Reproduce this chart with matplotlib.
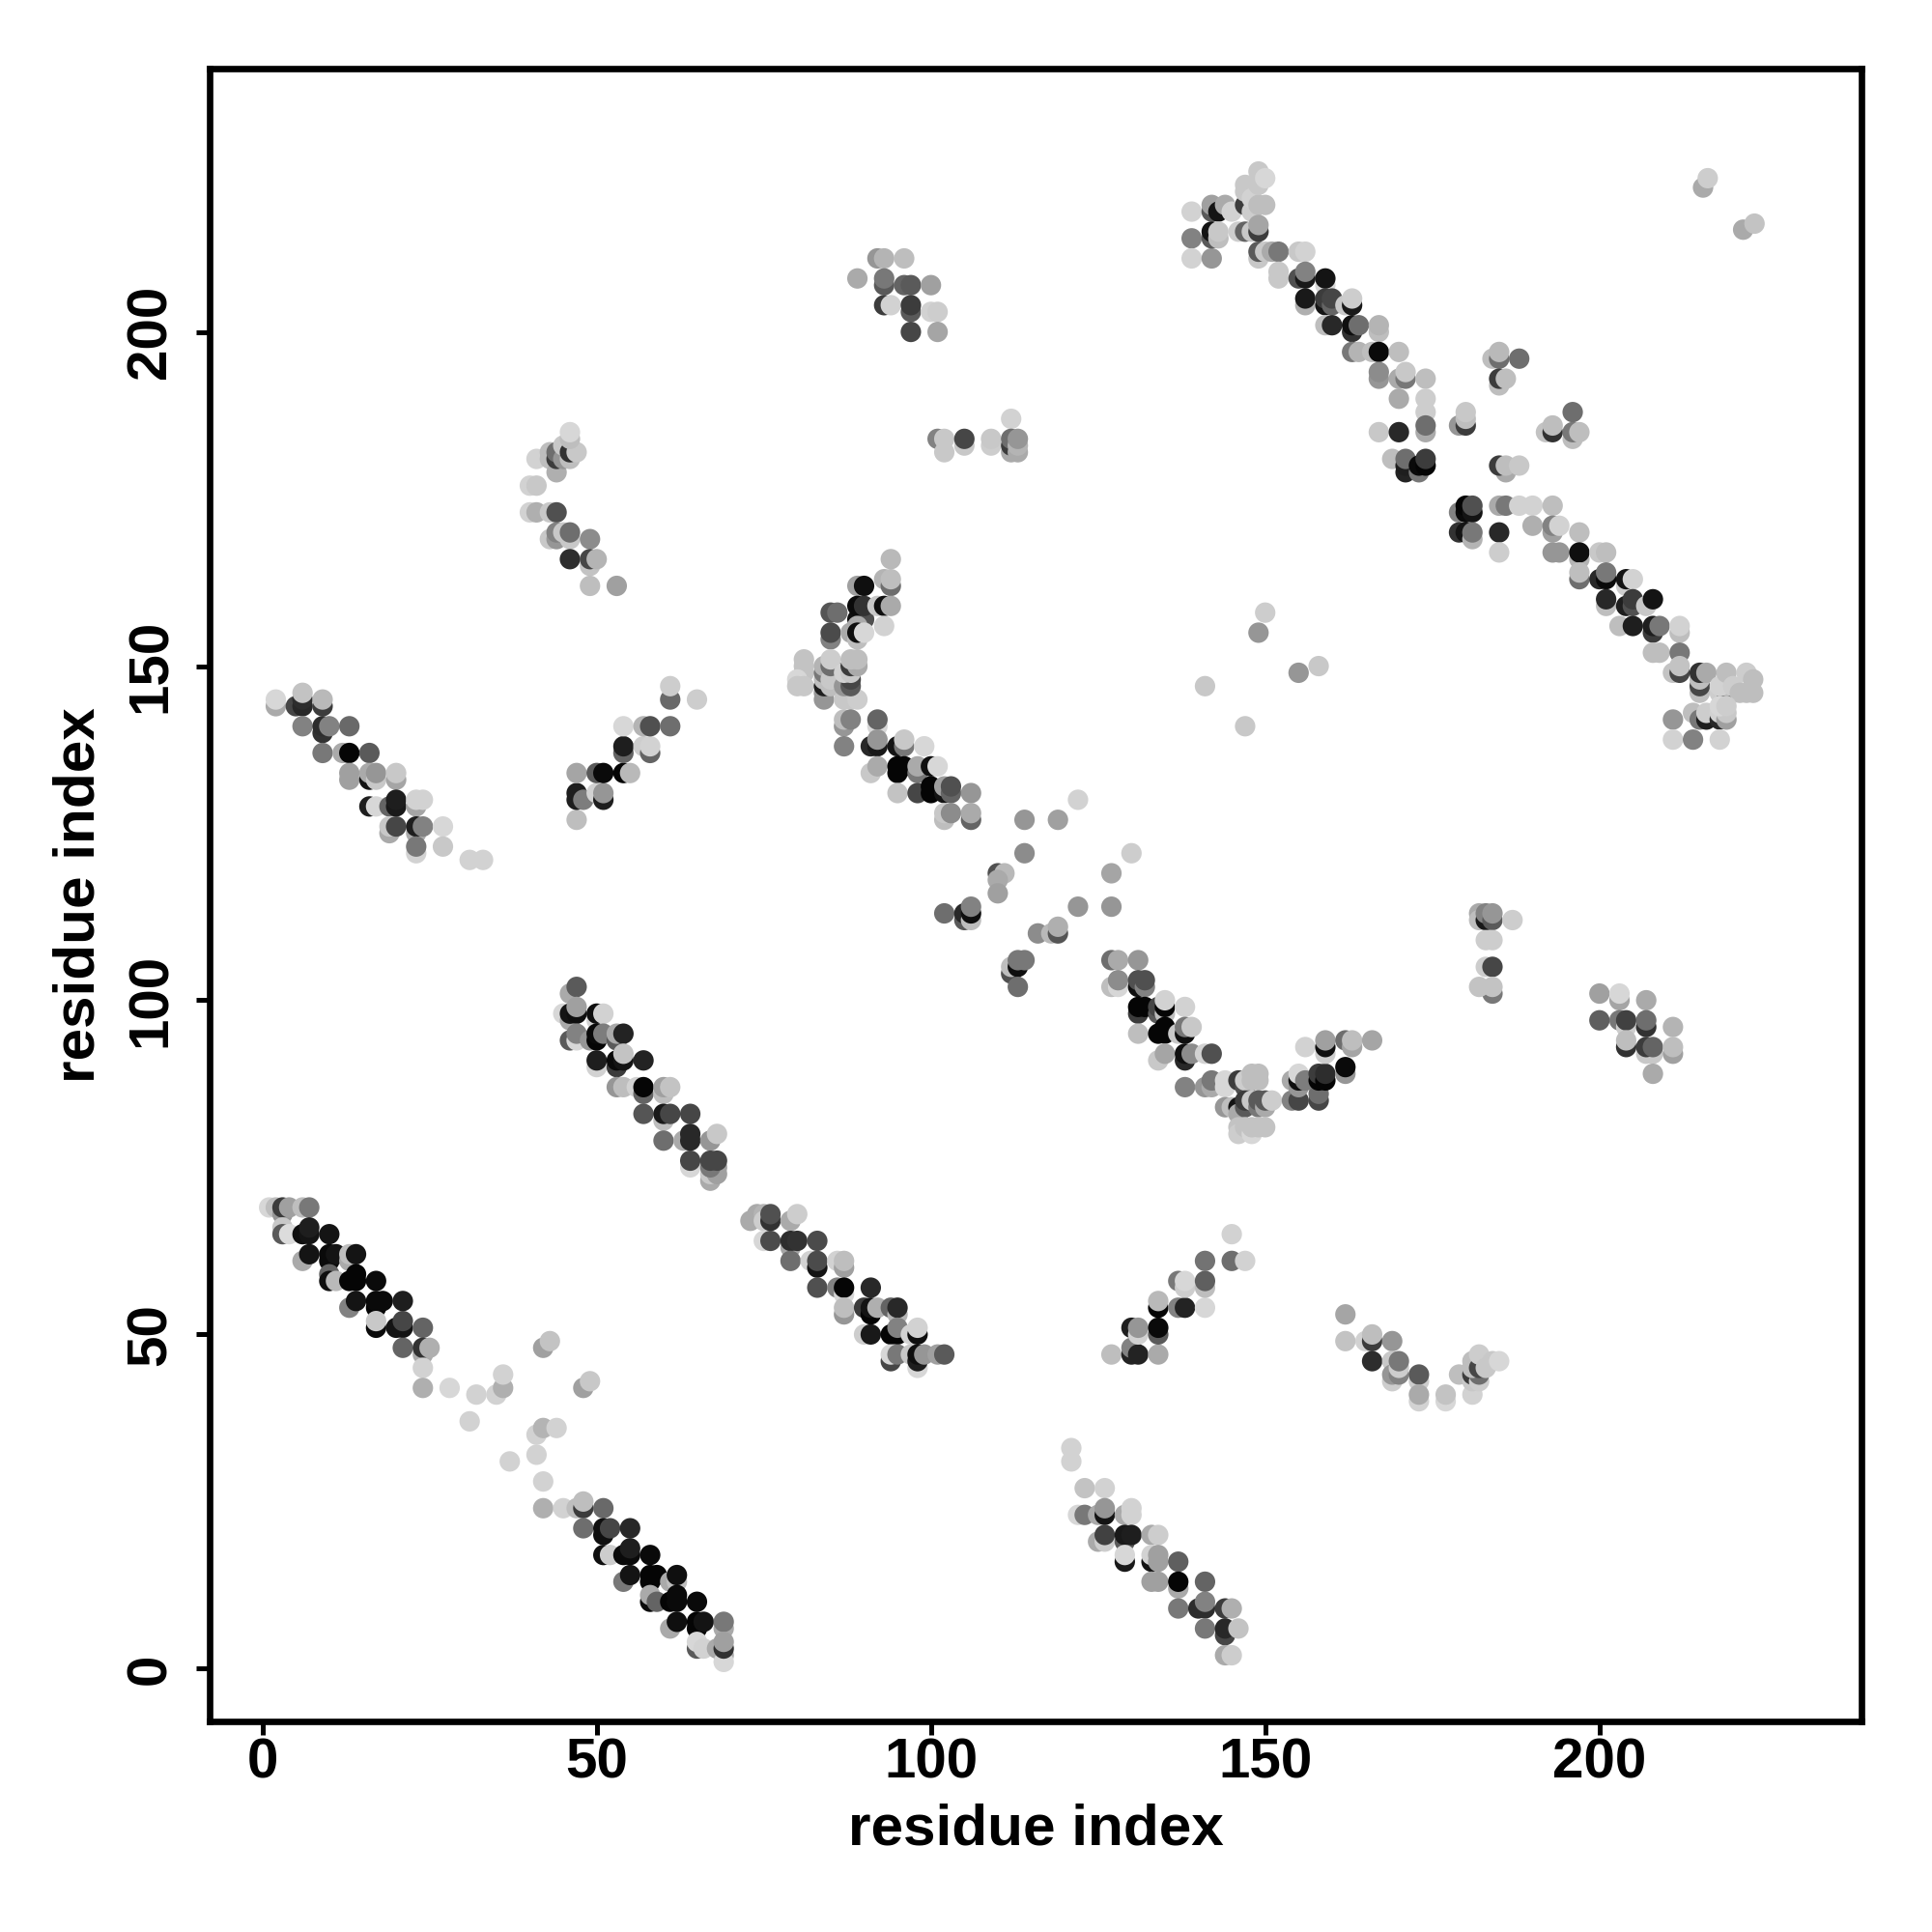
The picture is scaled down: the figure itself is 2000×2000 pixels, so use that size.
import matplotlib
matplotlib.use('Agg')
import matplotlib.pyplot as plt

plt.rcParams['font.family'] = ['Liberation Sans', 'DejaVu Sans']
plt.rcParams['font.weight'] = 'bold'

# (residue i, residue j, grey level 0-255), later points sit on top
strand_a = [(1,69,215),(2,69,190),(3,68,150),(3,69,60),(4,69,160),(6,69,190),(7,69,120),
(3,66,200),(3,65,90),(4,65,220),(6,65,15),(7,65,20),(7,66,30),(10,65,20),
(6,61,170),(7,62,20),(10,61,10),(10,62,10),(11,62,20),(13,61,170),(13,62,190),(14,62,20),
(10,59,100),(10,58,15),(11,58,185),(13,58,5),(14,58,5),(14,59,5),(17,58,10),
(13,54,130),(14,55,20),(17,54,5),(17,55,10),(18,55,10),(21,55,30),
(17,51,10),(17,52,200),(20,51,20),(21,51,20),(21,52,70),(24,51,100),
(21,48,100),(24,47,170),(24,48,50),(25,48,175),(24,45,210),(24,42,175),(28,42,215)]

linker_a = [(32,41,210),(35,41,210),(36,42,175),(36,44,210),(42,48,160),(43,49,195),(48,42,160),(49,43,200),
(31,37,210),(37,31,210),(41,32,210),(41,35,210),(42,36,180),(44,36,210),(42,28,210)]

strand_b = [(42,24,175),(45,24,210),(47,24,190),(48,24,60),(48,25,190),(51,24,105),
(48,21,110),(51,20,15),(51,21,15),(52,21,70),(55,21,40),
(51,17,15),(52,17,205),(54,17,10),(55,17,10),(55,18,30),(58,17,10),
(54,13,120),(55,14,20),(58,13,5),(58,14,5),(59,14,5),(61,13,170),(62,13,190),(62,14,15),
(58,10,10),(58,11,170),(59,10,100),(61,10,5),(62,10,10),(62,11,10),(65,10,10),
(61,6,170),(62,7,15),(65,6,5),(65,7,5),(66,7,20),(69,6,170),(69,7,120),
(65,3,90),(65,4,215),(66,3,210),(68,3,170),(69,2,170),(69,1,215),(69,3,50),(69,4,160)]

strand_c = [(73,67,170),(74,68,170),(75,68,180),(75,67,205),(76,67,50),(76,68,80),(79,67,170),(80,68,205),
(75,64,215),(76,64,75),(79,63,165),(79,64,45),(80,64,50),(83,64,75),
(79,61,110),(82,61,210),(83,60,20),(83,61,75),(86,61,210),(87,60,160),(87,61,190),
(83,57,80),(86,57,130),(87,56,215),(87,57,5),(91,57,40),
(87,53,150),(87,54,190),(90,54,60),(91,53,5),(91,54,20),(92,54,175),(94,54,100),(95,53,180),(95,54,40),
(90,50,205),(91,50,25),(94,50,5),(95,50,5),(95,51,130),(97,50,210),(98,50,15),(98,51,210),
(94,46,70),(94,47,215),(95,47,120),(98,45,215),(97,47,200),(98,46,30),(98,47,15),(99,47,150),(101,47,160),(102,47,90)]

strand_d = [(121,33,210),(121,31,210),(123,27,195),(126,27,210),
(122,23,215),(123,23,120),(125,23,170),(126,23,20),(126,24,150),(129,23,170),(130,23,210),(130,24,210),
(125,19,170),(126,19,205),(126,20,65),(129,19,90),(129,20,25),(130,20,30),(133,20,170),(134,20,205),
(129,16,25),(129,17,215),(133,16,20),(133,17,210),(134,16,160),(134,17,160),(137,16,95),
(133,13,160),(134,13,160),(137,12,170),(137,13,5),(141,13,100),
(137,9,120),(140,9,45),(141,9,45),(141,10,130),(144,9,60),(145,9,175),
(141,6,120),(144,5,70),(144,6,40),(146,6,195),(144,2,170),(145,2,205)]

strand_e = [(127,47,190),(130,47,35),(130,48,130),(131,47,35),(134,47,170),
(130,51,30),(131,50,210),(131,51,150),(134,50,90),(134,51,10),
(134,54,5),(134,55,185),(137,54,130),(138,54,35),(141,54,215),
(137,58,120),(138,57,205),(138,58,215),(141,57,190),(141,58,95),
(141,61,115),(145,61,110),(147,61,210),(145,65,210)]

strand_f = [(162,53,165),(162,49,195),(165,49,210),(166,49,60),(166,50,190),(169,49,150),
(166,46,45),(169,46,200),(169,43,205),(169,44,150),(170,44,130),(170,45,205),(170,46,120),
(173,43,205),(173,44,90),(173,40,210),(173,41,170),(177,40,215),(177,41,195),
(179,44,190),(181,41,210),(181,43,200),(181,44,60),(182,43,205),(182,44,110),(181,45,190),(181,46,190),(182,45,70),(182,47,205),(183,45,200),(184,46,200),(185,46,215)]

strand_g = [(2,144,170),(2,145,215),(5,144,70),(6,144,40),(6,145,45),(6,146,195),(9,144,60),(9,145,185),
(6,141,130),(9,140,50),(9,141,45),(10,141,130),(13,141,105),
(9,137,120),(12,137,170),(13,137,5),(16,137,90),
(13,133,160),(13,134,160),(16,133,20),(16,134,170),(17,133,200),(17,134,150),(20,133,165),(20,134,200),
(16,129,30),(17,129,215),(19,129,100),(20,129,25),(20,130,30),(23,129,165),(23,130,210),(24,130,210),
(19,125,170),(19,126,200),(20,126,70),(23,125,170),(23,126,30),(24,126,130),(27,126,215),
(23,122,210),(23,123,120),(27,123,200),(31,121,210),(33,121,210)]

strand_h = [(47,127,190),(47,130,30),(47,131,30),(48,130,125),(50,131,210),(51,130,30),(51,131,150),
(47,134,165),(50,134,90),(51,134,10),(54,134,5),(55,134,185),
(54,137,100),(54,138,30),(57,138,205),(58,137,100),(58,138,210),
(54,141,215),(57,141,180),(58,141,80),(61,141,110),(61,145,105),(61,147,205),(65,145,205)]

strand_i = [(46,101,170),(47,102,90),(45,98,215),(46,97,170),(46,98,20),(47,98,15),(47,99,160),(50,97,210),(50,98,15),(51,98,210),
(46,94,90),(47,94,215),(47,95,130),(49,94,150),(50,94,5),(50,95,10),(51,95,125),(53,94,90),(53,95,170),(54,95,35),
(50,90,210),(50,91,30),(53,90,60),(53,91,10),(54,91,20),(54,92,195),(57,91,35),
(53,87,150),(54,87,190),(56,87,210),(57,86,100),(57,87,5),(60,86,190),(60,87,160),(61,87,195),
(57,83,85),(60,82,190),(60,83,25),(61,83,70),(64,83,70),
(60,79,110),(63,79,170),(64,79,40),(64,80,40),(67,79,150),(68,80,200),
(64,75,215),(64,76,70),(67,73,170),(67,74,200),(68,74,160),(68,75,160),(67,75,120),(67,76,70),(68,76,70)]

strand_j = [(94,166,185),(89,162,160),(90,162,15),(93,163,180),(94,162,110),(94,163,190),
(85,158,85),(86,158,110),(89,157,15),(90,157,80),(89,159,10),(90,159,50),(92,159,200),(93,159,15),(94,159,170),
(85,154,130),(85,155,75),(88,155,170),(89,154,190),(89,156,170),(89,155,15),(90,155,215),(93,156,210),
(81,151,195),(81,150,195),(81,149,195),(80,148,215),(80,147,200),(81,147,200),
(84,145,150),(84,146,150),(84,147,30),(84,148,190),(84,149,120),(84,150,180),(85,147,190),(85,148,200),(85,150,110),(85,151,205),
(87,145,200),(88,145,200),(89,145,205),(87,147,150),(88,147,90),(88,148,70),(87,149,210),(88,149,200),(88,150,60),(89,150,170),(88,151,190),(89,151,190),
(87,141,150),(87,142,190),(88,142,130),(92,141,215),(92,142,100),
(87,138,130),(91,138,40),(92,138,25),(92,139,150),(95,138,20),(96,138,120),(96,139,200),(99,138,215),
(91,134,200),(92,135,170),(95,134,5),(95,135,5),(96,135,5),(98,134,120),(98,135,170),(100,135,15),(101,135,215),
(95,131,195),(98,131,70),(100,131,5),(100,132,5),(102,131,20),(102,132,160),(103,131,100),(103,132,80),(106,131,150),
(102,127,190),(102,128,200),(103,128,140),(106,127,100),(106,128,170)]

linker_b = [(114,127,150),(119,127,160),(122,130,210),(114,122,140),(130,122,205),(127,119,165),
(110,119,80),(111,119,185),(110,118,170),(110,116,160),(122,114,150),(127,114,150),
(102,113,110),(105,112,90),(105,113,40),(106,112,190),(106,113,15),(106,114,130),
(116,110,140),(118,110,185),(119,110,85),(119,111,175),
(112,104,80),(112,105,190),(113,105,15),(113,106,120),(114,106,120),(113,102,110)]

strand_k = [(127,106,110),(128,106,170),(131,106,150),(127,102,190),(128,102,215),(128,103,140),(131,102,15),(131,103,80),(132,102,130),(132,103,80),
(131,98,60),(131,99,5),(132,99,5),(134,98,90),(134,99,70),(135,98,190),(135,99,5),(135,100,210),(138,99,210),
(131,95,190),(134,95,5),(135,95,5),(135,96,5),(137,95,200),(138,95,15),(138,96,120),(139,96,200),
(134,91,200),(135,92,165),(138,91,40),(138,92,15),(139,92,140),(141,92,210),(142,92,80),
(138,87,130),(141,87,150),(142,87,170),(142,88,120),
(144,87,215),(144,88,215),(146,88,60),(147,87,80),(147,88,205),(148,88,190),(148,89,190),(149,88,190),(149,89,190),
(144,84,150),(145,84,190),(146,84,20),(146,83,170),(147,84,90),(147,85,60),(148,85,200),(149,84,120),(149,85,90),(150,84,170),(150,85,90),(151,85,205),
(146,81,195),(146,80,205),(147,81,195),(148,80,215),(148,81,195),(149,81,195),(150,81,195),
(154,85,130),(155,85,70),(158,85,70),(158,86,110),
(154,88,170),(155,87,150),(155,88,15),(155,89,215),(156,88,125),
(158,88,5),(158,89,60),(159,88,5),(159,89,45),(162,89,150),(162,90,10),
(156,93,210),(159,92,205),(159,93,15),(159,94,160),(162,94,110),(163,93,165),(163,94,190),(166,94,165)]

patch_a = [(182,113,170),(182,112,190),(183,112,25),(183,113,130),(184,112,90),(184,113,150),(187,112,205),
(183,109,205),(184,109,205),(183,105,205),(184,105,70),(184,101,120),(182,102,195),(184,102,195)]

patch_b = [(200,101,160),(203,100,165),(203,101,215),(207,100,170),
(200,97,95),(203,97,120),(204,96,205),(204,97,65),(207,96,50),(207,97,110),(211,96,180),
(204,93,50),(204,94,190),(207,92,200),(208,92,200),(207,93,60),(208,93,100),(211,92,160),(211,93,190),(208,89,170)]

patch_c = [(41,181,210),(43,181,190),(43,182,190),(44,179,175),(44,181,60),(44,182,110),(45,181,150),(46,181,190),
(45,183,200),(46,182,50),(47,182,200),(46,184,190),(46,185,215),
(40,177,210),(41,177,200),(40,173,210),(41,173,175),(43,173,200),(44,173,80),
(43,169,200),(44,169,150),(44,170,130),(45,170,200),(46,169,200),(46,170,110),(49,169,140),
(46,166,45),(49,165,195),(49,166,70),(50,166,180),(49,162,190),(53,162,160)]

patch_d = [(101,184,130),(102,182,200),(102,184,200),(105,183,200),(105,184,70),
(109,183,205),(109,184,200),(112,187,210),(112,182,170),(112,183,60),(112,184,110),(113,182,170),(113,183,180),(113,184,150)]

patch_e = [(89,208,170),(92,211,150),(93,211,180),(96,211,190),(93,207,90),(93,208,120),(96,207,100),(97,207,90),(100,207,160),
(93,204,60),(94,204,210),(97,203,90),(97,204,60),(100,203,210),(101,203,205),(97,200,70),(101,200,165)]

strand_l = [(139,218,210),(139,214,130),(139,211,210),(142,211,150),
(142,218,90),(142,219,160),(143,218,20),(144,219,170),(145,218,210),
(147,219,60),(148,218,205),(147,221,200),(147,222,200),(148,220,210),(149,219,190),(150,219,190),(149,222,200),(149,224,200),(150,223,215),
(142,214,90),(142,215,20),(143,214,190),(143,215,200),
(146,215,205),(147,215,100),(148,215,200),(149,215,60),(149,216,165),
(149,211,200),(149,212,90),(150,212,200),(151,212,170),(152,212,120),(155,212,200),(156,212,210),
(152,208,200),(152,209,200),(155,208,80),(156,208,25),(156,209,130),(159,207,215),(159,208,20),
(156,204,175),(156,205,25),(159,204,20),(159,205,60),(160,204,100),(160,205,70),(162,204,200),(163,204,25),(163,205,205),
(159,201,190),(160,201,40),(163,200,50),(163,201,15),(164,201,110),(167,200,190),(167,201,180),
(163,197,120),(164,197,180),(166,197,190),(167,197,10),(170,197,190),
(167,193,150),(167,194,140),(170,193,170),(171,193,120),(171,194,200),(174,193,190),
(170,190,170),(174,190,205),(174,188,205),(174,185,170),(174,186,110),(167,185,200),(170,185,40),
(169,181,190),(171,179,35),(171,180,30),(171,181,110),(173,179,120),(173,180,10),(174,180,5),(174,181,60)]

patch_f = [(184,196,190),(185,196,110),(185,197,185),(188,196,110),(185,192,190),(185,193,60),(186,193,190),
(179,186,150),(180,186,60),(180,187,190),(180,188,200),(192,185,195),(193,185,50),(193,186,190),(196,188,110),
(196,184,190),(196,185,120),(197,185,190),(186,179,170),(185,180,60),(186,180,190),(188,180,200)]

strand_m = [(179,173,130),(180,173,10),(180,174,5),(181,173,20),(181,174,80),
(179,170,50),(180,170,20),(181,169,180),(181,170,120),(185,170,40),(185,167,205),
(185,174,170),(186,174,120),(188,174,210),(190,174,210),(193,174,190),
(190,171,175),(193,170,160),(193,171,130),(194,171,210),(197,170,190),
(193,167,150),(194,167,150),(197,166,180),(197,167,15),(200,167,200),(201,167,190),
(197,163,110),(197,164,190),(200,163,40),(201,163,10),(201,164,120),(204,162,205),(204,163,20),(205,163,210),
(201,159,190),(201,160,40),(204,159,30),(205,159,80),(205,160,60),(207,159,200),(208,160,20),
(203,156,190),(205,156,30),(208,155,60),(208,156,30),(209,156,120),(212,155,190),(212,156,210),
(208,152,190),(209,152,190),(212,152,120),(211,149,195),(212,149,70),(212,150,195),
(215,146,190),(215,147,70),(215,148,190),(215,149,50),(216,149,170),
(218,146,205),(219,145,210),(219,146,80),(219,147,190),(218,147,210),(219,149,190),(220,147,205),
(221,146,190),(222,146,190),(223,146,190),(222,149,205),(223,148,190),
(211,142,150),(214,143,190),(215,142,120),(216,142,30),(216,143,205),(218,142,40),(218,143,210),(219,142,160),(219,143,200),(218,144,215),(219,144,205),
(211,139,210),(214,139,130),(218,139,210)]

stray = [(141,147,200),(147,141,200),(149,155,150),(150,158,205),(155,149,150),(158,150,200),
(215.5,221.6,170),(216.2,223,205),(221.5,215.3,170),(223.2,216.2,195)]

groups = [strand_a, linker_a, strand_b, strand_c, strand_d, strand_e, strand_f, strand_g, strand_h, strand_i,
          strand_j, linker_b, strand_k, patch_a, patch_b, patch_c, patch_d, patch_e, strand_l, patch_f, strand_m, stray]

tick_vals = [0, 50, 100, 150, 200]

fig = plt.figure(figsize=(10, 10), dpi=200)
ax = fig.add_axes([217/2000, 1 - 1782/2000, (1927 - 217)/2000, (1782 - 71)/2000])

for g in groups:
    xs = [p[0] for p in g]
    ys = [p[1] for p in g]
    cs = [p[2] for p in g]
    ax.scatter(xs, ys, c=cs, cmap='gray', vmin=0, vmax=255, s=58, linewidths=0)

ax.set_xlim(-7.9, 239.2)
ax.set_ylim(-7.9, 239.4)
ax.set_xticks(tick_vals)
ax.set_yticks(tick_vals)
ax.tick_params(axis='both', length=5, width=1.8, labelsize=21)
ax.tick_params(axis='x', pad=1)
ax.tick_params(axis='y', pad=7)
for lab in ax.get_yticklabels():
    lab.set_rotation(90)
    lab.set_va('center')
for s in ax.spines.values():
    s.set_linewidth(2.4)

ax.set_xlabel('residue index', fontsize=21.7, fontweight='bold', labelpad=5)
ax.set_ylabel('residue index', fontsize=21.7, fontweight='bold', labelpad=7.3)

plt.savefig('out.png', dpi=200)
